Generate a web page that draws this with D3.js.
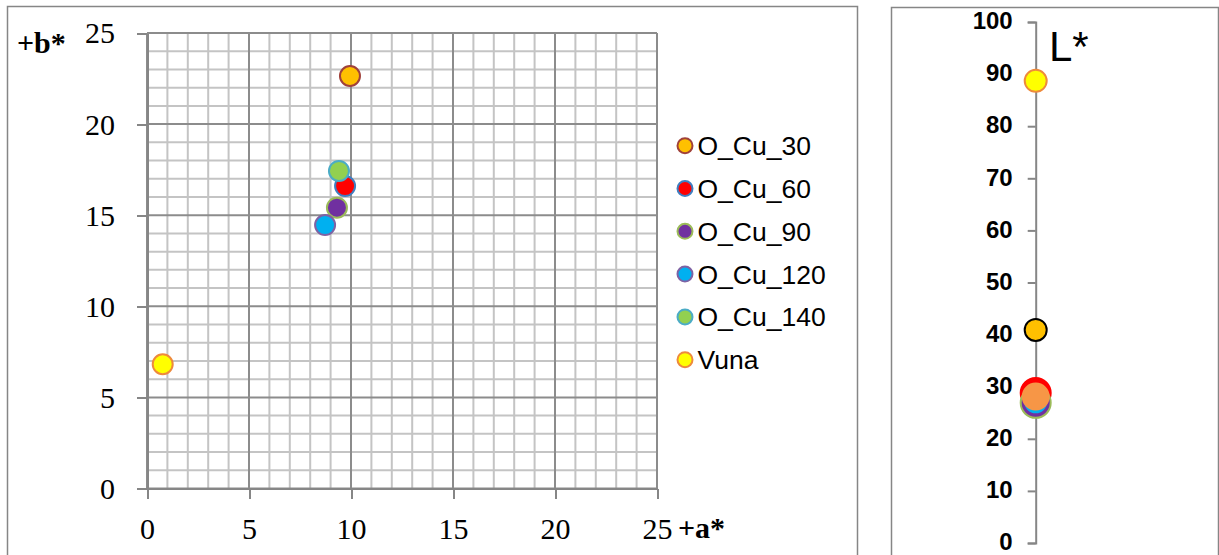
<!DOCTYPE html>
<html>
<head>
<meta charset="utf-8">
<script src="https://cdn.jsdelivr.net/npm/d3@7"></script>
<style>
  html, body { margin: 0; padding: 0; background: #fff; }
  svg { display: block; }
</style>
</head>
<body>
<svg id="chart" width="1219" height="555"></svg>
<script>
// Sample series and their CIELAB coordinates
const seriesNames = ["O_Cu_30", "O_Cu_60", "O_Cu_90", "O_Cu_120", "O_Cu_140", "Vuna"];
const aValues = [9.95, 9.71, 9.31, 8.73, 9.41, 0.77];
const bValues = [22.64, 16.6, 15.41, 14.46, 17.43, 6.82];
const lValues = [40.9, 28.8, 26.9, 27.1, 28.1, 88.7];

// Tick labels
const abTicks = [0, 5, 10, 15, 20, 25];
const lTicks = [0, 10, 20, 30, 40, 50, 60, 70, 80, 90, 100];

// Marker styles for the a*/b* plane
const abFill = ["#FFC000", "#FF0000", "#7030A0", "#00B0F0", "#92D050", "#FFFF00"];
const abStroke = ["#A0413A", "#3F7EC0", "#9BBB59", "#7E62A4", "#4BACC6", "#EE8A3C"];
// Marker styles for the L* scale
const lFill = ["#FFC000", "#FF0000", "#7030A0", "#00B0F0", "#F79646", "#FFFF00"];
const lStroke = ["#000000", "#FF0000", "#9BBB59", "#7030A0", "#F79646", "#EE8A3C"];
const lRadius = [11, 15, 15, 12.5, 13, 11];

const svg = d3.select("#chart");
svg.append("rect").attr("width", 1219).attr("height", 555).attr("fill", "#fff");

const grey = "#868686";

// ---------- a*/b* chart ----------
svg.append("rect")
  .attr("x", 7.5).attr("y", 6.5).attr("width", 850).attr("height", 600)
  .attr("fill", "none").attr("stroke", grey).attr("stroke-width", 1.5);

const x = d3.scaleLinear().domain([0, 25]).range([147, 657]);
const y = d3.scaleLinear().domain([0, 25]).range([488.5, 33]);

const grid = svg.append("g");
const units = d3.range(0, 26);
grid.selectAll("line.v").data(units).join("line")
  .attr("class", "v")
  .attr("x1", d => x(d)).attr("x2", d => x(d))
  .attr("y1", y(0)).attr("y2", y(25))
  .attr("stroke", d => d % 5 === 0 ? "#8c8c8c" : "#c4c4c4")
  .attr("stroke-width", 2);
grid.selectAll("line.h").data(units).join("line")
  .attr("class", "h")
  .attr("y1", d => y(d)).attr("y2", d => y(d))
  .attr("x1", x(0)).attr("x2", x(25))
  .attr("stroke", d => d % 5 === 0 ? "#8c8c8c" : "#c4c4c4")
  .attr("stroke-width", 2);
// redraw major lines over minor ones
grid.selectAll("line").filter(d => d % 5 === 0).raise();

const xAxis = svg.append("g")
  .attr("transform", `translate(0,${y(0)})`)
  .call(d3.axisBottom(x).tickValues(abTicks).tickSize(10).tickSizeOuter(0));
xAxis.select(".domain").attr("stroke", grey).attr("stroke-width", 2);
xAxis.selectAll(".tick line").attr("stroke", grey).attr("stroke-width", 2);
xAxis.selectAll(".tick text")
  .attr("y", 50).attr("dy", 0)
  .attr("font-family", "'Liberation Serif', serif").attr("font-size", 30).attr("fill", "#000");

const yAxis = svg.append("g")
  .attr("transform", `translate(${x(0)},0)`)
  .call(d3.axisLeft(y).tickValues(abTicks).tickSize(10).tickSizeOuter(0));
yAxis.select(".domain").attr("stroke", grey).attr("stroke-width", 2);
yAxis.selectAll(".tick line").attr("stroke", grey).attr("stroke-width", 2);
yAxis.selectAll(".tick text")
  .attr("x", -32).attr("dy", "0.33em")
  .attr("font-family", "'Liberation Serif', serif").attr("font-size", 30).attr("fill", "#000");
svg.selectAll(".domain, .tick line").attr("shape-rendering", "crispEdges");

svg.append("text").attr("x", 17).attr("y", 53)
  .attr("font-family", "'Liberation Serif', serif").attr("font-weight", "bold")
  .attr("font-size", 30).text("+b*");
svg.append("text").attr("x", 678).attr("y", 538)
  .attr("font-family", "'Liberation Serif', serif").attr("font-weight", "bold")
  .attr("font-size", 30).text("+a*");

svg.append("g").selectAll("circle").data(seriesNames).join("circle")
  .attr("cx", (d, i) => x(aValues[i]))
  .attr("cy", (d, i) => y(bValues[i]))
  .attr("r", 10)
  .attr("fill", (d, i) => abFill[i])
  .attr("stroke", (d, i) => abStroke[i])
  .attr("stroke-width", 2);

// Legend
const legend = svg.append("g").selectAll("g").data(seriesNames).join("g")
  .attr("transform", (d, i) => `translate(685,${145.7 + i * 42.8})`);
legend.append("circle").attr("r", 7.5)
  .attr("fill", (d, i) => abFill[i])
  .attr("stroke", (d, i) => abStroke[i])
  .attr("stroke-width", 2);
legend.append("text").attr("x", 12.5).attr("y", 9.5)
  .attr("font-family", "'Liberation Sans', Arial, sans-serif").attr("font-size", 26.5)
  .text(d => d);

// ---------- L* chart ----------
svg.append("rect")
  .attr("x", 891.5).attr("y", 7.5).attr("width", 327).attr("height", 600)
  .attr("fill", "none").attr("stroke", grey).attr("stroke-width", 1.5);

const yL = d3.scaleLinear().domain([0, 100]).range([543, 22]);
const lAxis = svg.append("g")
  .attr("transform", "translate(1035.7,0)")
  .call(d3.axisLeft(yL).tickValues(lTicks).tickSize(8).tickSizeOuter(8));
lAxis.select(".domain").attr("stroke", grey).attr("stroke-width", 2);
lAxis.selectAll(".tick line").attr("stroke", grey).attr("stroke-width", 2);
lAxis.selectAll(".tick text")
  .attr("x", -23).attr("dy", "0.28em")
  .attr("font-family", "'Liberation Sans', Arial, sans-serif").attr("font-weight", "bold")
  .attr("font-size", 24).attr("fill", "#000");

svg.append("text").attr("x", 1049).attr("y", 61)
  .attr("font-family", "'Liberation Sans', Arial, sans-serif").attr("font-size", 42)
  .text("L*");

svg.append("g").selectAll("circle").data(seriesNames).join("circle")
  .attr("cx", 1035.7)
  .attr("cy", (d, i) => yL(lValues[i]))
  .attr("r", (d, i) => lRadius[i])
  .attr("fill", (d, i) => lFill[i])
  .attr("stroke", (d, i) => lStroke[i])
  .attr("stroke-width", 2);
</script>
</body>
</html>
